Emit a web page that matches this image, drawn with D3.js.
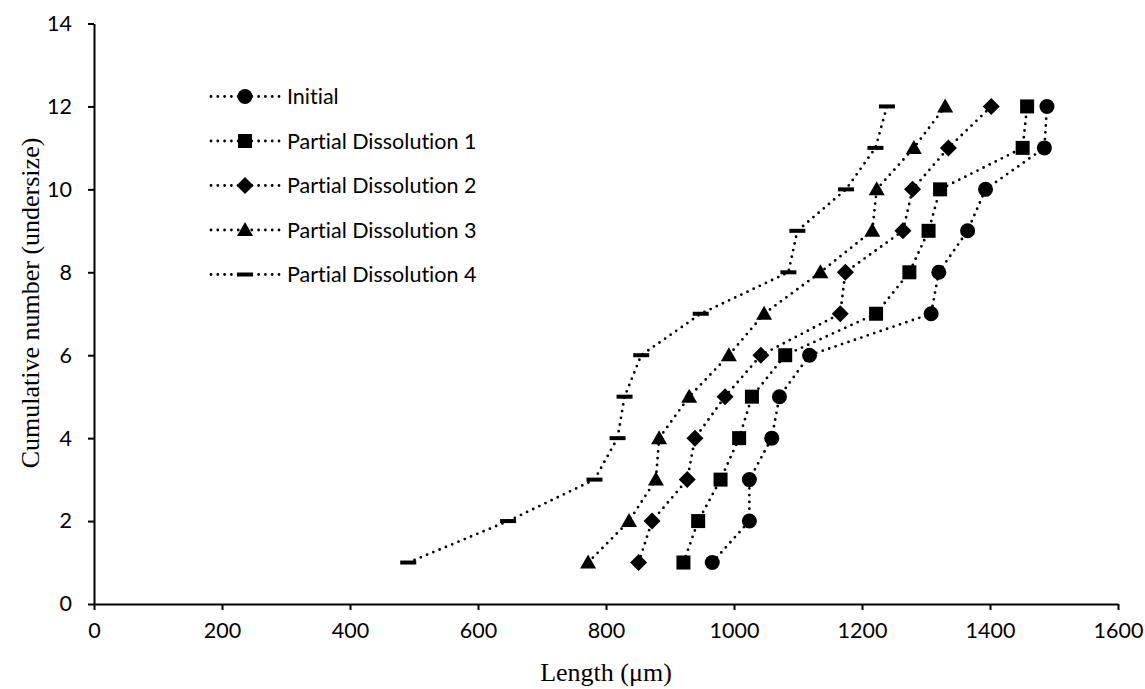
<!DOCTYPE html>
<html>
<head>
<meta charset="utf-8">
<script src="https://cdn.jsdelivr.net/npm/d3@7"></script>
<style>
  html, body { margin: 0; padding: 0; background: #fff; }
  svg { display: block; }
  text { font-variant-ligatures: none; font-feature-settings: "liga" 0, "dlig" 0; }
</style>
</head>
<body>
<svg id="chart" width="1145" height="689"></svg>
<script>
// ---- Data ----
const cumulativeCounts = [1, 2, 3, 4, 5, 6, 7, 8, 9, 10, 11, 12];
const seriesNames = ["Initial", "Partial Dissolution 1", "Partial Dissolution 2", "Partial Dissolution 3", "Partial Dissolution 4"];
const initialLengths = [966, 1024, 1024, 1059, 1071, 1118, 1308, 1320, 1365, 1393, 1485, 1489];
const pd1Lengths = [921, 944, 979, 1008, 1028, 1080, 1222, 1274, 1304, 1322, 1451, 1458];
const pd2Lengths = [851, 872, 927, 939, 986, 1042, 1166, 1174, 1264, 1279, 1335, 1402];
const pd3Lengths = [772, 836, 878, 883, 930, 992, 1047, 1135, 1216, 1223, 1281, 1330];
const pd4Lengths = [491, 647, 782, 818, 829, 855, 948, 1085, 1099, 1175, 1221, 1239];
const xTickValues = [0, 200, 400, 600, 800, 1000, 1200, 1400, 1600];
const yTickValues = [0, 2, 4, 6, 8, 10, 12, 14];
const markerShapes = ["circle", "square", "diamond", "triangle", "dash"];

const seriesValues = [initialLengths, pd1Lengths, pd2Lengths, pd3Lengths, pd4Lengths];
const series = seriesNames.map((name, i) => ({
  name, shape: markerShapes[i],
  points: cumulativeCounts.map((c, j) => ({ x: seriesValues[i][j], y: c }))
}));

const svg = d3.select("#chart");
const x = d3.scaleLinear().domain([0, 1600]).range([94, 1118]);
const y = d3.scaleLinear().domain([0, 14]).range([604, 23.5]);

const sansFont = "Lato, 'Open Sans', sans-serif";
const serifFont = "'Liberation Serif', 'DejaVu Serif', serif";

// axes
const xAxis = svg.append("g").attr("transform", `translate(0,${y(0)})`)
  .call(d3.axisBottom(x).tickValues(xTickValues).tickSize(6).tickSizeOuter(0).tickPadding(13).tickFormat(d3.format("d")));
const yAxis = svg.append("g").attr("transform", `translate(${x(0)},0)`)
  .call(d3.axisLeft(y).tickValues(yTickValues).tickSize(6).tickSizeOuter(0).tickPadding(16).tickFormat(d3.format("d")));
[xAxis, yAxis].forEach(g => {
  g.select(".domain").attr("stroke", "#000").attr("stroke-width", 2);
  g.selectAll(".tick line").attr("stroke", "#000").attr("stroke-width", 2);
  g.selectAll(".tick text").attr("fill", "#000").style("font-family", sansFont).style("font-size", "21.5px");
});

// axis titles
svg.append("text").attr("x", 606).attr("y", 681).attr("text-anchor", "middle")
  .style("font-family", serifFont).style("font-size", "26px").attr("fill", "#000")
  .text("Length (μm)");
svg.append("text").attr("transform", "translate(39,303) rotate(-90)").attr("text-anchor", "middle")
  .style("font-family", serifFont).style("font-size", "26px").attr("fill", "#000")
  .text("Cumulative number (undersize)");

// marker drawing
function drawMarker(g, shape, cx, cy) {
  if (shape === "circle") {
    g.append("circle").attr("cx", cx).attr("cy", cy).attr("r", 7.5).attr("fill", "#000");
  } else if (shape === "square") {
    g.append("rect").attr("x", cx - 7).attr("y", cy - 7).attr("width", 14).attr("height", 14).attr("fill", "#000");
  } else if (shape === "diamond") {
    g.append("path").attr("d", `M${cx},${cy - 8.5}L${cx + 8.5},${cy}L${cx},${cy + 8.5}L${cx - 8.5},${cy}Z`).attr("fill", "#000");
  } else if (shape === "triangle") {
    g.append("path").attr("d", `M${cx},${cy - 8}L${cx + 8},${cy + 6}L${cx - 8},${cy + 6}Z`).attr("fill", "#000");
  } else if (shape === "dash") {
    g.append("rect").attr("x", cx - 8).attr("y", cy - 2).attr("width", 16).attr("height", 4).attr("fill", "#000");
  }
}

const line = d3.line().x(d => x(d.x)).y(d => y(d.y));
const plot = svg.append("g");
series.forEach(s => {
  plot.append("path").datum(s.points).attr("d", line)
    .attr("fill", "none").attr("stroke", "#000").attr("stroke-width", 2.8)
    .attr("stroke-linecap", "round").attr("stroke-dasharray", "0 6.8");
  const mg = plot.append("g");
  s.points.forEach(p => drawMarker(mg, s.shape, x(p.x), y(p.y)));
});

// legend
const legend = svg.append("g");
series.forEach((s, i) => {
  const ly = 96.5 + i * 44.5;
  legend.append("line").attr("x1", 211).attr("x2", 280).attr("y1", ly).attr("y2", ly)
    .attr("stroke", "#000").attr("stroke-width", 2.8).attr("stroke-linecap", "round").attr("stroke-dasharray", "0 6.8");
  drawMarker(legend, s.shape, 245, ly);
  legend.append("text").attr("x", 287).attr("y", ly + 7.5)
    .style("font-family", sansFont).style("font-size", "21.5px").attr("fill", "#000").text(s.name);
});
</script>
</body>
</html>
